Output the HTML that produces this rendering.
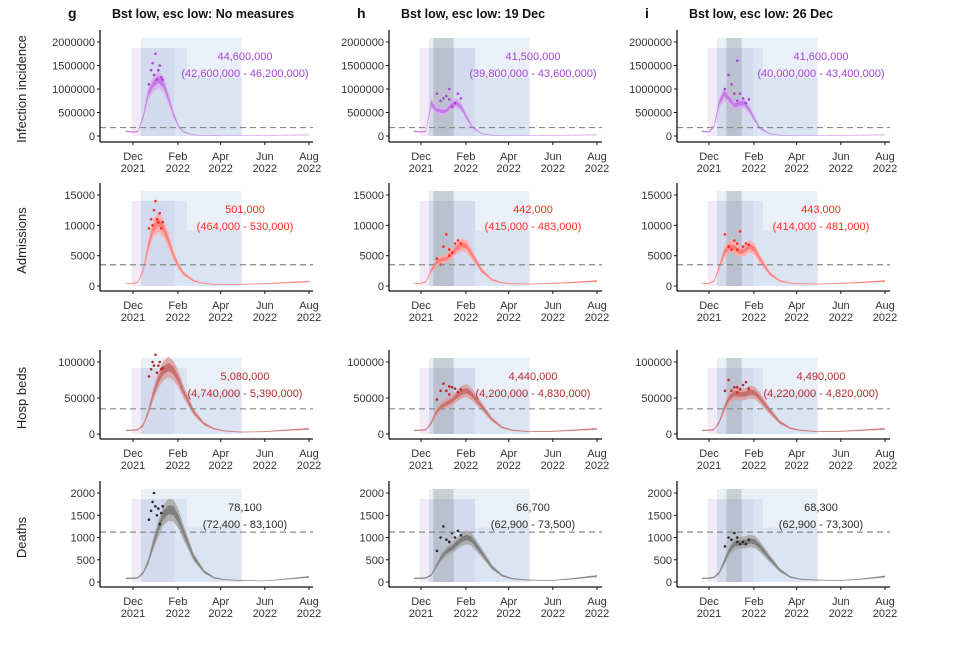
<!DOCTYPE html>
<html><head><meta charset="utf-8"><style>
body{margin:0;background:#fff;}
svg text{font-family:"Liberation Sans",Arial,sans-serif;}
</style></head><body>
<svg id="fig" width="960" height="640" viewBox="0 0 960 640" xmlns="http://www.w3.org/2000/svg"></svg>
<script>
// ---- data ----
const days = [-10,0,7,14,21,28,35,42,49,56,63,70,84,98,112,126,150,180,210,243];
const rowNames = ["Infection incidence","Admissions","Hosp beds","Deaths"];
const colTitles = ["Bst low, esc low: No measures","Bst low, esc low: 19 Dec","Bst low, esc low: 26 Dec"];
const colLetters = ["g","h","i"];
const monthLabels = ["Dec","Feb","Apr","Jun","Aug"];
const yearLabels = ["2021","2022","2022","2022","2022"];
const monthDays = [0,62,121,182,243];
const yTicks0 = [0,500000,1000000,1500000,2000000];
const yTicks1 = [0,5000,10000,15000];
const yTicks2 = [0,50000,100000];
const yTicks3 = [0,500,1000,1500,2000];
const thresholds = [180000,3500,35000,1120];
const incG = [100000,80000,90000,400000,900000,1100000,1200000,1100000,800000,450000,200000,80000,20000,6000,4000,3000,5000,10000,15000,20000];
const incH = [100000,80000,100000,700000,550000,520000,530000,650000,700000,600000,400000,200000,40000,12000,6000,5000,5000,10000,15000,20000];
const incI = [100000,80000,200000,700000,900000,780000,650000,680000,700000,550000,350000,170000,40000,12000,6000,5000,5000,10000,15000,20000];
const admG = [400,400,600,2500,6500,9500,10500,9500,7500,5000,3200,2000,800,400,250,200,250,350,500,700];
const admH = [400,400,700,2500,3800,4300,4500,5200,6200,6800,6500,5200,2500,1000,500,350,300,400,550,800];
const admI = [400,400,800,3000,5500,6500,6300,5600,5800,6500,6000,4500,2000,800,450,350,300,400,550,800];
const bedG = [5000,5000,6000,12000,30000,55000,75000,88000,93000,88000,75000,58000,30000,14000,7000,4000,2500,3000,5000,7000];
const bedH = [5000,5000,6000,15000,30000,38000,42000,46000,52000,58000,60000,55000,38000,20000,9000,5000,3000,3500,5000,7000];
const bedI = [5000,5000,6000,16000,35000,50000,56000,55000,55000,58000,57000,50000,32000,16000,8000,5000,3000,3500,5000,7000];
const dthG = [80,80,90,200,450,850,1200,1500,1620,1600,1400,1100,550,230,90,50,30,20,60,110];
const dthH = [80,80,90,150,350,550,680,750,850,950,1000,950,650,330,140,70,40,30,70,130];
const dthI = [80,80,100,200,450,700,850,880,880,920,900,800,520,260,110,60,40,30,60,120];
const obsIncDays = [22,25,27,29,31,33,35,37,39,41];
const obsIncG = [1100000,1400000,1550000,1300000,1750000,1200000,1400000,1500000,1250000,1200000];
const obsIncH = [900000,1000000,750000,620000,800000,700000,850000,900000,780000,800000];
const obsIncI = [1000000,1600000,1300000,900000,1100000,800000,900000,700000,750000,780000];
const obsAdmG = [9500,11000,10000,12500,14000,11000,10500,12000,9500,10500];
const obsAdmH = [4500,5000,3500,5500,6500,7000,8500,7500,6000,7000];
const obsAdmI = [8500,7000,6500,9000,6000,6500,7500,7000,6000,6800];
const obsBedG = [80000,90000,100000,95000,110000,85000,95000,100000,90000,92000];
const obsBedH = [48000,55000,60000,65000,70000,63000,60000,58000,66000,62000];
const obsBedI = [60000,65000,75000,62000,60000,68000,65000,72000,58000,63000];
const obsDthG = [1400,1600,1800,2000,1700,1500,1650,1300,1550,1700];
const obsDthH = [700,900,1000,1100,1250,1000,950,1150,900,1050];
const obsDthI = [800,900,1000,850,950,900,1100,850,1000,950];
const labelMain = [["44,600,000","41,500,000","41,600,000"],["501,000","442,000","443,000"],["5,080,000","4,440,000","4,490,000"],["78,100","66,700","68,300"]];
const labelCI = [["(42,600,000 - 46,200,000)","(39,800,000 - 43,600,000)","(40,000,000 - 43,400,000)"],["(464,000 - 530,000)","(415,000 - 483,000)","(414,000 - 481,000)"],["(4,740,000 - 5,390,000)","(4,200,000 - 4,830,000)","(4,220,000 - 4,820,000)"],["(72,400 - 83,100)","(62,900 - 73,500)","(62,900 - 73,300)"]];

const series = [[incG,incH,incI],[admG,admH,admI],[bedG,bedH,bedI],[dthG,dthH,dthI]];
const obs = [[obsIncG,obsIncH,obsIncI],[obsAdmG,obsAdmH,obsAdmI],[obsBedG,obsBedH,obsBedI],[obsDthG,obsDthH,obsDthI]];
const yTicks = [yTicks0,yTicks1,yTicks2,yTicks3];
const yMax = [2000000,15000,100000,2000];

// ---- layout ----
const colAxisX = [100,389,677];
const colDecX = [133,421,709];
const pxPerDay = 176/243;
const rowZeroY = [136,286,434,582];
const rowTopY = [42,195,362,493];
const rowAxisY = [142,291,439,587];
const colors = ["#a743d6","#ff2a22","#b52b2b","#2a2a2a"];
const bandOuter = ["#d9aef0","#ffaaa6","#dca3a3","#a8a8a8"];
const bandInner = ["#b866e0","#ff6a62","#c05858","#6a6a6a"];
const purpleEnd = [57,75,61];
const greyRange = [null,[17,45],[24,45]];

const NS="http://www.w3.org/2000/svg";
const svg=document.getElementById('fig');
function el(tag,attrs,parent){const e=document.createElementNS(NS,tag);for(const k in attrs)e.setAttribute(k,attrs[k]);(parent||svg).appendChild(e);return e;}
function xS(c,d){return colDecX[c]+d*pxPerDay;}
function yS(r,v){return rowZeroY[r]-(v/yMax[r])*(rowZeroY[r]-rowTopY[r]);}

for(let c=0;c<3;c++){
  const t=el('text',{x:colAxisX[c]+12,y:18,'font-size':12.5,'font-weight':'bold',fill:'#111'});
  t.textContent=colTitles[c];
  
  
  const l=el('text',{x:colAxisX[c]-32,y:18,'font-size':14,'font-weight':'bold',fill:'#111'});
  l.textContent=colLetters[c];
  
  
}
for(let r=0;r<4;r++){
  const cy=(rowZeroY[r]+rowTopY[r])/2;
  const t=el('text',{x:26,y:cy,'font-size':13,fill:'#222','text-anchor':'middle',transform:`rotate(-90 26 ${cy})`});
  t.textContent=rowNames[r];
  
  
}

for(let r=0;r<4;r++){
  for(let c=0;c<3;c++){
    const g=el('g',{});
    
    
    const span=rowZeroY[r]-rowTopY[r];
    const pTop=rowTopY[r]+6, bTop=rowTopY[r]-4, base=rowZeroY[r];
    const pr=el('rect',{x:xS(c,-2),y:pTop,width:(purpleEnd[c]+2)*pxPerDay,height:base-pTop,fill:'#ece2f4','fill-opacity':0.7},g);
    
    
    const br=el('rect',{x:xS(c,11),y:bTop,width:139*pxPerDay,height:base-bTop,fill:'#d6e6f2','fill-opacity':0.55},g);
    
    
    el('rect',{x:xS(c,purpleEnd[c]),y:pTop,width:(150-purpleEnd[c])*pxPerDay,height:base-pTop,fill:'#c8d2ea','fill-opacity':0.4},g);
    el('rect',{x:xS(c,11),y:pTop,width:(purpleEnd[c]-11)*pxPerDay,height:base-pTop,fill:'#c4cae6','fill-opacity':0.45},g);
    if(greyRange[c]){
      const gr=el('rect',{x:xS(c,greyRange[c][0]),y:bTop,width:(greyRange[c][1]-greyRange[c][0])*pxPerDay,height:base-bTop,fill:'#8a9090','fill-opacity':0.35},g);
      
      
    }
    const lx=colDecX[c]+112;
    el('rect',{x:lx-58,y:pTop,width:116,height:span*0.32,fill:'#ffffff','fill-opacity':0.45},g);
    const med=series[r][c];
    const band=(f)=>{let up=days.map((d,i)=>`${xS(c,d)},${yS(r,med[i]*(1+f)+yMax[r]*0.004)}`);let lo=days.map((d,i)=>`${xS(c,d)},${yS(r,Math.max(0,med[i]*(1-f)))}`).reverse();return up.concat(lo).join(' ');};
    const bo=el('polygon',{points:band(0.15),fill:bandOuter[r],'fill-opacity':0.9},g);
    
    
    const bi=el('polygon',{points:band(0.06),fill:bandInner[r],'fill-opacity':0.7},g);
    
    
    obs[r][c].forEach((v,i)=>{
      const p=el('circle',{cx:xS(c,obsIncDays[i]+(c===0?0:(i%2?14:0))),cy:yS(r,v),r:1.3,fill:colors[r]},g);
      
      
    });
    const th=el('line',{x1:colAxisX[c],x2:colAxisX[c]+213,y1:yS(r,thresholds[r]),y2:yS(r,thresholds[r]),stroke:'#888','stroke-width':1.2,'stroke-dasharray':'6,4'},g);
    
    
    const ax=colAxisX[c], ay=rowAxisY[r];
    const yl=el('line',{x1:ax,x2:ax,y1:rowTopY[r]-12,y2:ay,stroke:'#111','stroke-width':1.3},g);
    
    
    const xl=el('line',{x1:ax,x2:ax+213,y1:ay,y2:ay,stroke:'#111','stroke-width':1.3},g);
    
    
    yTicks[r].forEach(v=>{
      const y=yS(r,v);
      el('line',{x1:ax-3,x2:ax,y1:y,y2:y,stroke:'#111'},g);
      const t=el('text',{x:ax-5,y:y+4,'font-size':11,'text-anchor':'end',fill:'#333'},g);
      t.textContent=String(v);
      
      
    });
    monthDays.forEach((d,i)=>{
      const x=xS(c,d);
      el('line',{x1:x,x2:x,y1:ay,y2:ay+3,stroke:'#111'},g);
      const t=el('text',{x:x,y:ay+18,'font-size':11,'text-anchor':'middle',fill:'#333'},g);
      t.textContent=monthLabels[i];
      
      
      const t2=el('text',{x:x,y:ay+30,'font-size':11,'text-anchor':'middle',fill:'#333'},g);
      t2.textContent=yearLabels[i];
      
      
    });
    const a=el('text',{x:lx,y:pTop+12,'font-size':11,'text-anchor':'middle',fill:colors[r]},g);
    a.textContent=labelMain[r][c];
    
    
    const b=el('text',{x:lx,y:pTop+29,'font-size':11,'text-anchor':'middle',fill:colors[r]},g);
    b.textContent=labelCI[r][c];
    
    
  }
}
</script>
</body></html>
